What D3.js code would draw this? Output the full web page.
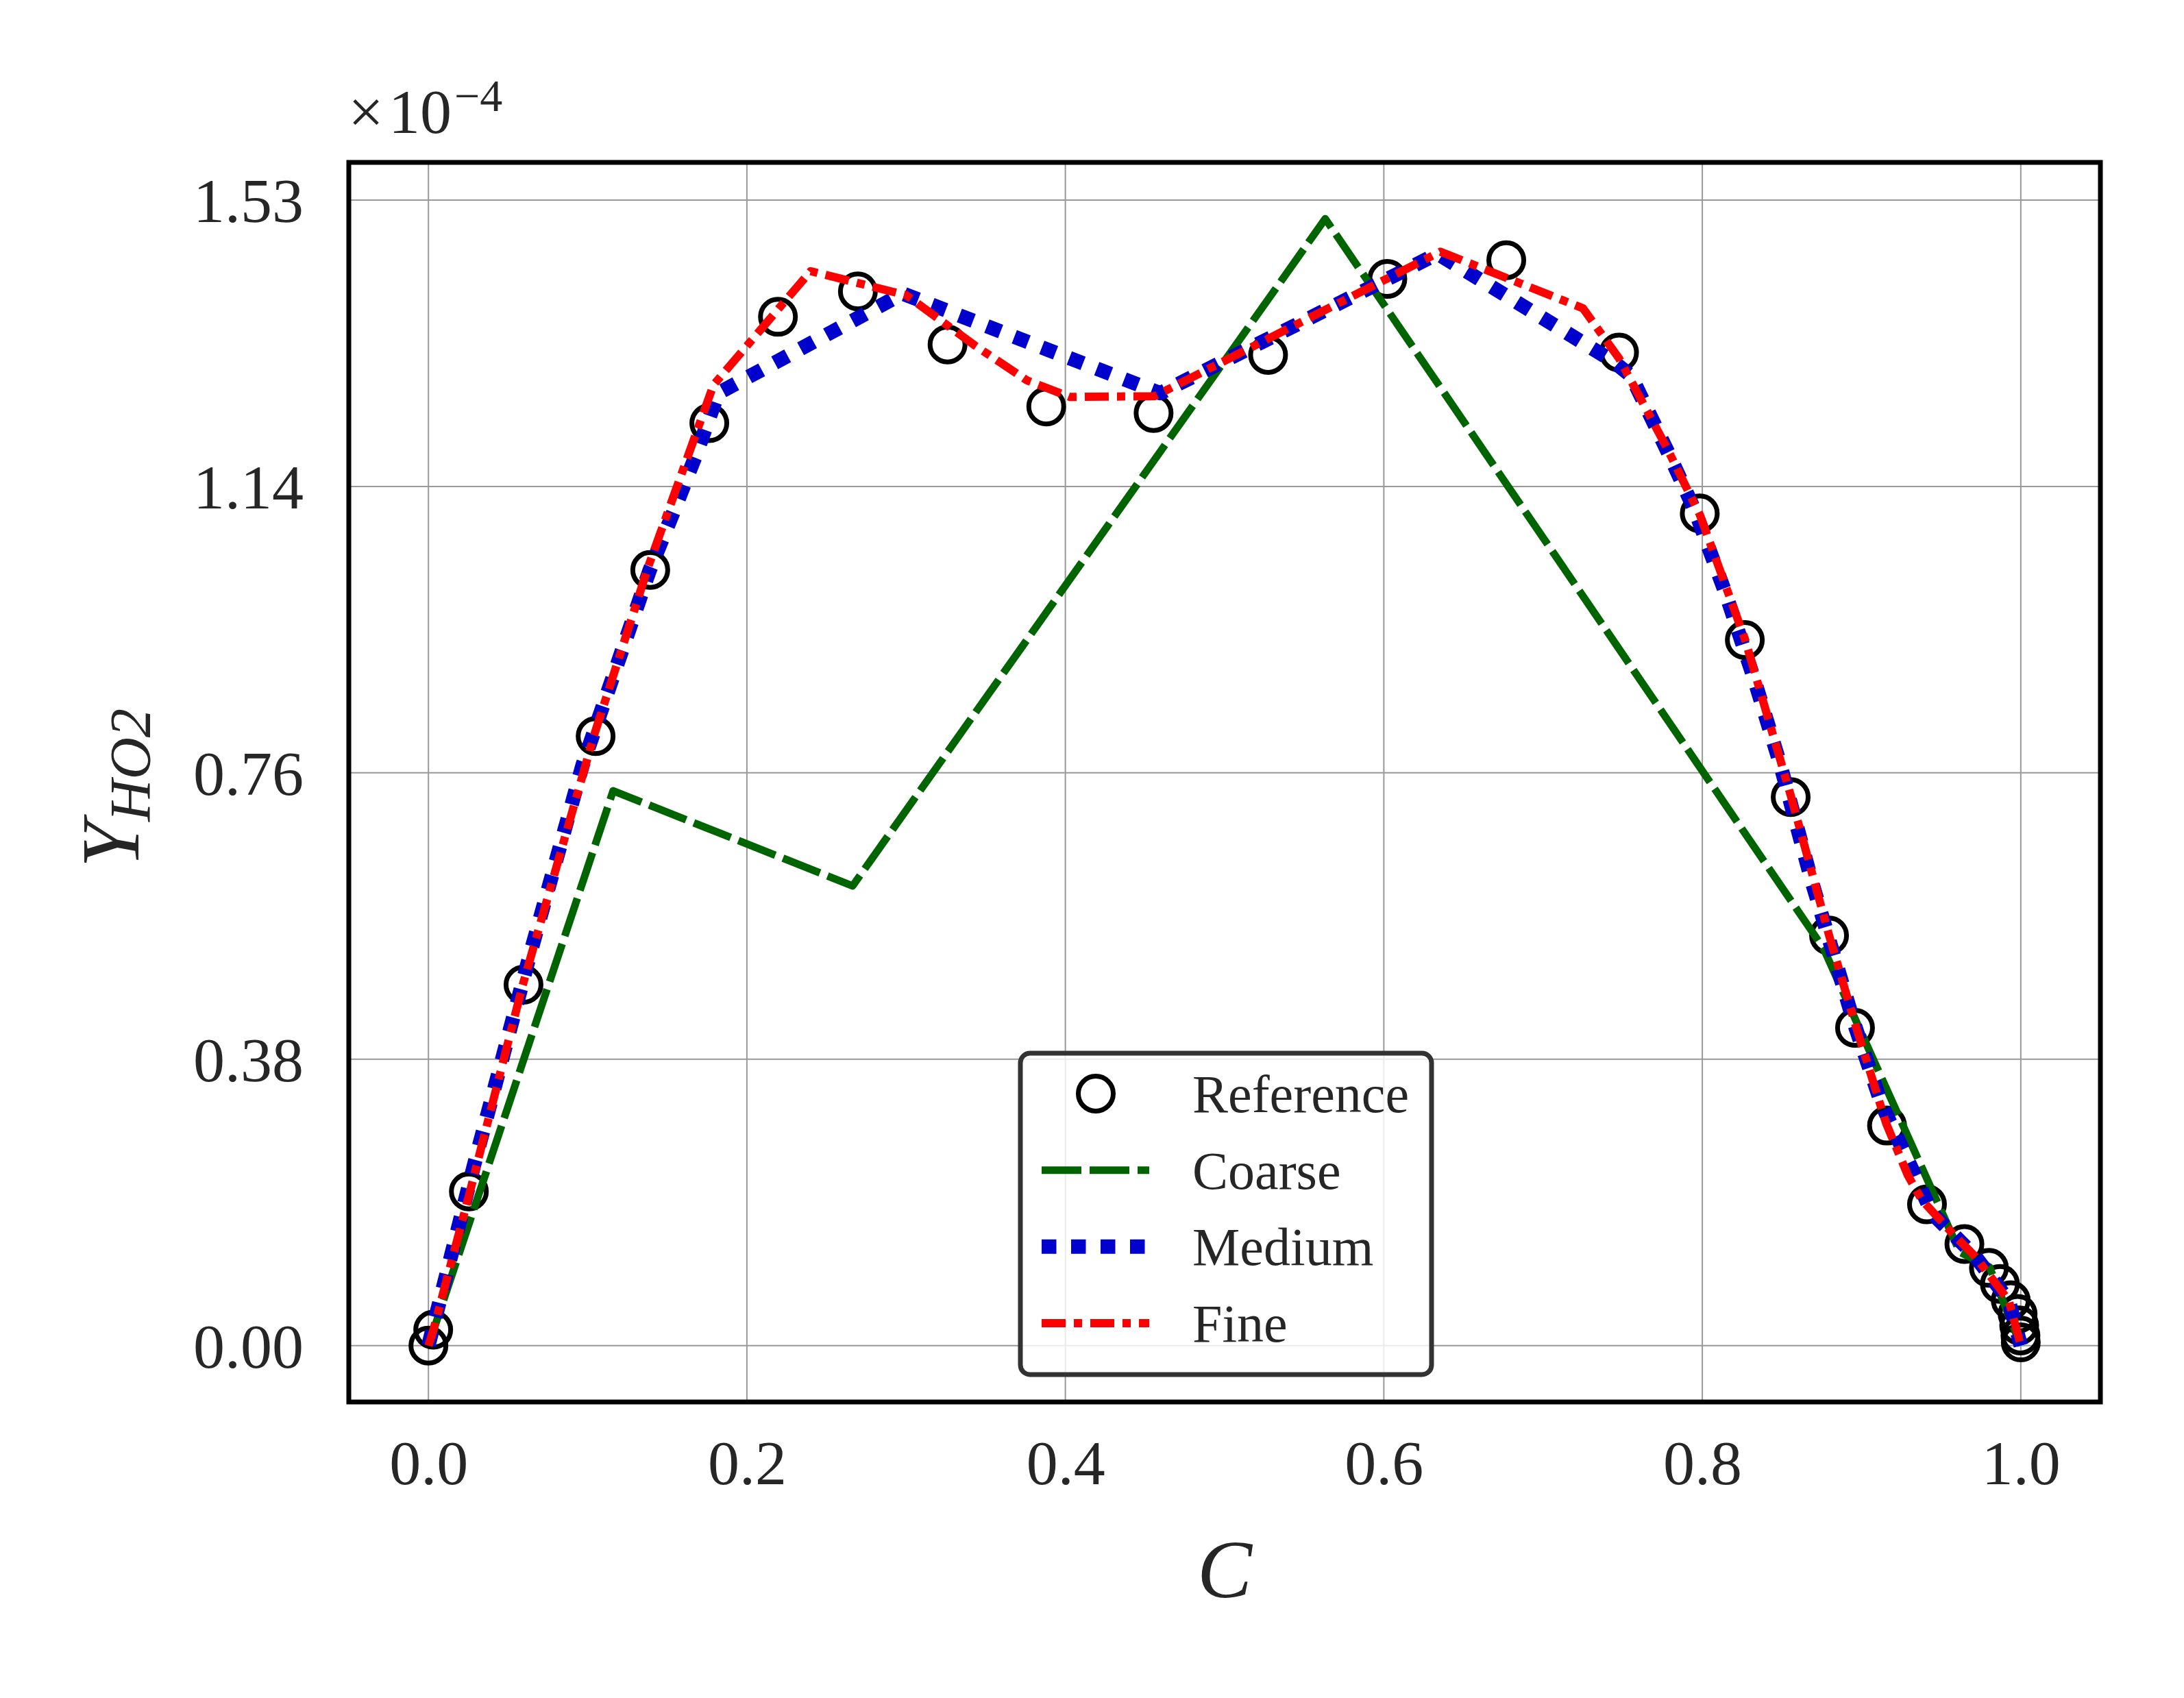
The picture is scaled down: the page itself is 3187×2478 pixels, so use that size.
<!DOCTYPE html>
<html>
<head>
<meta charset="utf-8">
<style>
    body { margin: 0; background: #fff; }
    svg { display: block; font-family: 'Liberation Serif', 'Times New Roman', serif; }
    .tick text { fill: #262626; }
</style>
</head>
<body>
<svg id="chart" width="3187" height="2478"></svg>

<script src="https://d3js.org/d3.v7.min.js"></script>
<script>
// progress variable C and HO2 mass fraction (x 1e-4)
const refC = [0, 0.003, 0.0254, 0.0597, 0.105, 0.1393, 0.1764, 0.2195, 0.2697, 0.326, 0.388, 0.4554, 0.5273, 0.6022, 0.6769, 0.7477, 0.7984, 0.8267, 0.8555, 0.8796, 0.8959, 0.916, 0.9411, 0.9646, 0.98, 0.9869, 0.9937, 0.998, 0.999, 0.9998, 1.0];
const refY = [0, 0.0213, 0.206, 0.482, 0.814, 1.036, 1.232, 1.374, 1.408, 1.337, 1.2543, 1.2456, 1.3231, 1.4246, 1.4497, 1.3264, 1.1115, 0.9424, 0.7325, 0.5477, 0.4244, 0.2939, 0.1887, 0.1357, 0.1038, 0.0824, 0.0606, 0.0423, 0.0271, 0.0135, 0.0043];

const coarseC = [0, 0.116, 0.2664, 0.5632, 0.876, 0.9617, 0.9804, 1.0];
const coarseY = [0, 0.741, 0.614, 1.505, 0.531, 0.125, 0.1048, 0.0];

const mediumC = [0, 0.0285, 0.0627, 0.0969, 0.139, 0.153, 0.1681, 0.182, 0.298, 0.4595, 0.6338, 0.7434, 0.7553, 0.7804, 0.7955, 0.8148, 0.8326, 0.849, 0.8686, 0.8955, 0.9128, 0.9291, 0.9444, 0.958, 0.9714, 0.9925, 1.0];
const mediumY = [0, 0.24, 0.514, 0.776, 1.036, 1.1086, 1.19, 1.272, 1.405, 1.272, 1.4583, 1.3155, 1.2952, 1.1844, 1.1144, 1.0037, 0.89, 0.776, 0.621, 0.4294, 0.3212, 0.2477, 0.1764, 0.1478, 0.1192, 0.06, 0.0];

const fineC = [0, 0.003, 0.026, 0.059, 0.104, 0.138, 0.179, 0.240, 0.300, 0.343, 0.376, 0.403, 0.456, 0.6355, 0.725, 0.7477, 0.777, 0.7984, 0.8267, 0.8555, 0.8796, 0.8959, 0.9155, 0.9291, 0.9378, 0.958, 0.9714, 0.9925, 1.0];
const fineY = [0, 0.02, 0.205, 0.48, 0.815, 1.04, 1.283, 1.435, 1.403, 1.336, 1.289, 1.267, 1.268, 1.461, 1.3855, 1.3185, 1.202, 1.11, 0.944, 0.735, 0.548, 0.43, 0.2966, 0.2273, 0.1947, 0.1478, 0.119, 0.06, 0.0];

const xTicks = [0, 0.2, 0.4, 0.6, 0.8, 1.0];
const xTickLabels = ["0.0", "0.2", "0.4", "0.6", "0.8", "1.0"];
const yTicks = [0, 0.3825, 0.765, 1.1475, 1.53];
const yTickLabels = ["0.00", "0.38", "0.76", "1.14", "1.53"];

const seriesNames = ["Reference", "Coarse", "Medium", "Fine"];

// plot box in page pixels
let plotLeft = 509, plotRight = 3065, plotTop = 237, plotBottom = 2046;

let svg = d3.select("#chart");

let x = d3.scaleLinear().domain([-0.05, 1.05]).range([plotLeft, plotRight]);
let y = d3.scaleLinear().domain([-0.07525, 1.58025]).range([plotBottom, plotTop]);

// grid
let grid = svg.append("g").attr("class", "grid");
grid.selectAll(".vgrid")
    .data(xTicks)
    .join("line")
    .attr("x1", d => x(d)).attr("x2", d => x(d))
    .attr("y1", plotTop).attr("y2", plotBottom)
    .style("stroke", "#999").style("stroke-width", 2);
grid.selectAll(".hgrid")
    .data(yTicks)
    .join("line")
    .attr("x1", plotLeft).attr("x2", plotRight)
    .attr("y1", d => y(d)).attr("y2", d => y(d))
    .style("stroke", "#999").style("stroke-width", 2);

// axes (labels only, no tick marks)
let xAxis = svg.append("g")
    .attr("transform", "translate(0," + plotBottom + ")")
    .call(d3.axisBottom(x).tickValues(xTicks).tickSize(0).tickPadding(55)
        .tickFormat((d, i) => xTickLabels[i]));
xAxis.select(".domain").remove();
xAxis.selectAll("text").style("font-size", "92px").style("font-family", "'Liberation Serif', serif");

let yAxis = svg.append("g")
    .attr("transform", "translate(" + plotLeft + ",0)")
    .call(d3.axisLeft(y).tickValues(yTicks).tickSize(0).tickPadding(66)
        .tickFormat((d, i) => yTickLabels[i]));
yAxis.select(".domain").remove();
yAxis.selectAll("text").style("font-size", "92px").style("font-family", "'Liberation Serif', serif")
    .attr("dy", "0.34em");

// reference points drawn first, lines on top
svg.append("g")
    .selectAll("circle")
    .data(refC.map((c, i) => [c, refY[i]]))
    .join("circle")
    .attr("cx", d => x(d[0]))
    .attr("cy", d => y(d[1]))
    .attr("r", 25.5)
    .style("fill", "none")
    .style("stroke", "#000")
    .style("stroke-width", 7);

let line = d3.line().x(d => x(d[0])).y(d => y(d[1]));

let styles = [
    { cs: coarseC, ys: coarseY, color: "#006400", width: 11, dash: "58,12" },
    { cs: mediumC, ys: mediumY, color: "#0000CD", width: 21, dash: "21.5,21.5" },
    { cs: fineC, ys: fineY, color: "#FF0000", width: 12, dash: "35,12,12,12" }
];

styles.forEach(s => {
    svg.append("path")
        .datum(s.cs.map((c, i) => [c, s.ys[i]]))
        .attr("d", line)
        .style("fill", "none")
        .style("stroke", s.color)
        .style("stroke-width", s.width)
        .style("stroke-dasharray", s.dash)
        .style("stroke-linejoin", "round")
        .style("stroke-linecap", "butt");
});

// frame
svg.append("rect")
    .attr("x", plotLeft).attr("y", plotTop)
    .attr("width", plotRight - plotLeft).attr("height", plotBottom - plotTop)
    .style("fill", "none").style("stroke", "#000").style("stroke-width", 7);

// offset text
let off = svg.append("text")
    .attr("y", 194)
    .style("font-size", "92px")
    .style("fill", "#262626");
off.append("tspan").attr("x", 508).text("\u00d7");
off.append("tspan").attr("x", 567).text("10");
off.append("tspan").attr("x", 663).attr("dy", -32).style("font-size", "66px").text("\u22124");

// axis labels
let ylab = svg.append("text")
    .attr("transform", "translate(202,1150) rotate(-90)")
    .attr("text-anchor", "middle")
    .style("font-style", "italic")
    .style("font-size", "121px")
    .style("fill", "#262626");
ylab.append("tspan").text("Y");
ylab.append("tspan").attr("dy", 17).style("font-size", "85px").text("HO2");

svg.append("text")
    .attr("x", (plotLeft + plotRight) / 2)
    .attr("y", 2331)
    .attr("text-anchor", "middle")
    .style("font-style", "italic")
    .style("font-size", "120px")
    .style("fill", "#262626")
    .text("C");

// legend
let legend = svg.append("g");
legend.append("rect")
    .attr("x", 1489).attr("y", 1537)
    .attr("width", 600).attr("height", 469)
    .attr("rx", 14)
    .style("fill", "#fff").style("fill-opacity", 0.8)
    .style("stroke", "#333").style("stroke-width", 7);

let rowY = d3.scalePoint().domain(seriesNames).range([1596, 1931]);

legend.append("circle")
    .attr("cx", 1599).attr("cy", rowY("Reference"))
    .attr("r", 25.5)
    .style("fill", "none").style("stroke", "#000").style("stroke-width", 7);

styles.forEach((s, i) => {
    let ry = rowY(seriesNames[i + 1]);
    legend.append("line")
        .attr("x1", 1520).attr("x2", 1677)
        .attr("y1", ry).attr("y2", ry)
        .style("stroke", s.color)
        .style("stroke-width", s.width)
        .style("stroke-dasharray", s.dash);
});

legend.selectAll(".ltext")
    .data(seriesNames)
    .join("text")
    .attr("x", 1740)
    .attr("y", d => rowY(d) + 27)
    .style("font-size", "78px")
    .style("fill", "#262626")
    .text(d => d);
</script>
</body>
</html>
